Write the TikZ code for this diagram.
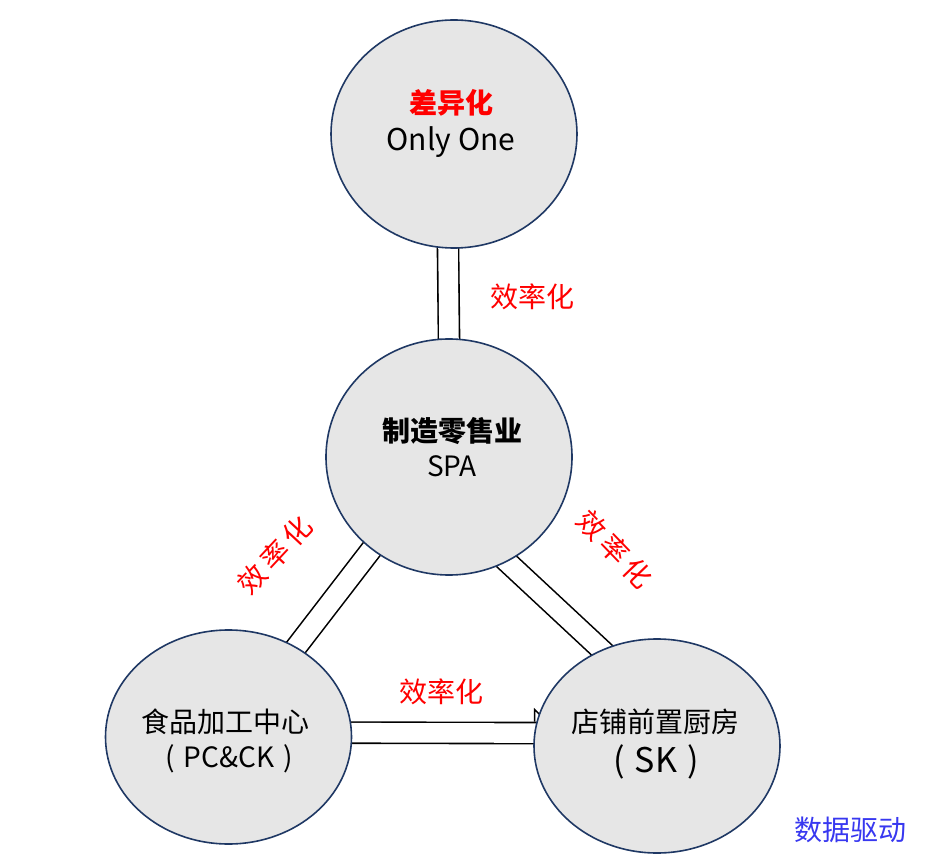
\documentclass[tikz,border=0pt]{standalone}
\usepackage{fontspec}
\setmainfont{Noto Sans CJK SC}
\usetikzlibrary{shapes.geometric,backgrounds,calc}
\definecolor{circfill}{HTML}{E6E6E6}
\definecolor{circline}{HTML}{1F3864}
\definecolor{redtxt}{HTML}{FF0000}
\definecolor{bluetxt}{HTML}{3838F0}
\tikzset{
  bubble/.style={ellipse, draw=circline, line width=1.6pt, fill=circfill, inner sep=0pt, minimum width=246pt},
  link/.style={draw=black, line width=1.6pt, double=white, double distance=19.5pt, shorten <=-14pt, shorten >=-14pt},
  cjk/.style={inner sep=0pt, font=\fontsize{28}{32}\selectfont},
  cjkb/.style={inner sep=0pt, font=\fontsize{28}{32}\selectfont\bfseries},
  latin/.style={inner sep=0pt, font=\fontsize{30}{34}\selectfont},
  redlab/.style={cjk, text=redtxt},
}
\begin{document}
\begin{tikzpicture}[x=1pt,y=-1pt]
\useasboundingbox (0,0) rectangle (948,866);
% bubbles
\node[bubble, minimum height=228pt] (top) at (454,134) {};
\node[bubble, minimum height=236pt] (mid) at (449,457) {};
\node[bubble, minimum height=214pt] (bl) at (228.5,737) {};
\node[bubble, minimum height=214pt] (br) at (657,746) {};
% connectors behind bubbles
\begin{scope}[on background layer]
  \draw[link] (top.-93) -- (mid.90);
  \draw[link] (mid.-130) -- (bl.53);
  \draw[link] (mid.-61) -- (br.120);
  \draw[link] (bl.2) -- (br.174);
  \coordinate (tick) at ($(br.174)+(0.5,-11.5)$);
  \draw[line width=1.4pt] (tick) -- ++(0,-12) -- ++(8,8);
\end{scope}
% texts
\node[cjkb, text=redtxt] (t1) at (451,103) {差异化};
\node[latin] (t2) at (451,142) {Only One};
\node[cjkb] (m1) at (452,431) {制造零售业};
\node[inner sep=0pt, font=\fontsize{28}{32}\selectfont] (m2) at (452,466) {SPA};
\node[cjk] (l1) at (225,722) {食品加工中心};
\node[inner sep=0pt, font=\fontsize{28}{32}\selectfont] (l2) at (229,759) {(\hspace{9pt}PC\&CK\hspace{9pt})};
\node[cjk] (r1) at (655,722) {店铺前置厨房};
\node[inner sep=0pt, font=\fontsize{34}{38}\selectfont] (r2) at (656,762) {(\hspace{10pt}SK\hspace{10pt})};
% link labels
\node[redlab] (e1) at (532,297) {效率化};
\node[redlab, rotate=47] (e2) at (275,555) {效\hspace{5pt}率\hspace{5pt}化};
\node[redlab, rotate=-46] (e3) at (615,549) {效\hspace{5pt}率\hspace{5pt}化};
\node[redlab] (e4) at (441,692) {效率化};
\node[cjk, text=bluetxt] (d) at (850,830) {数据驱动};
\end{tikzpicture}
\end{document}
